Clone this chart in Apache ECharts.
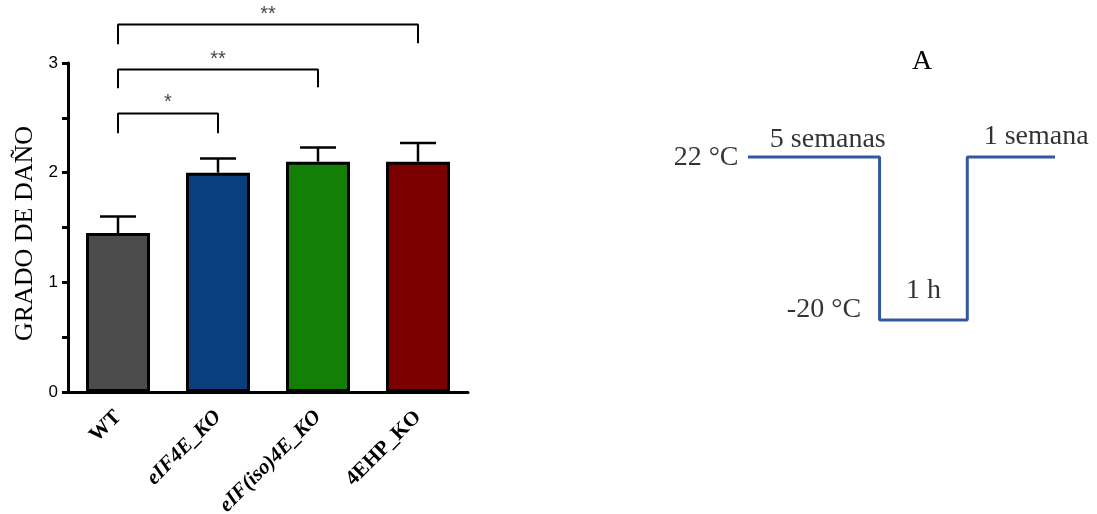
<!DOCTYPE html>
<html>
<head>
<meta charset="utf-8">
<script src="https://cdn.jsdelivr.net/npm/echarts@6/dist/echarts.min.js"></script>
<style>
html,body{margin:0;padding:0;background:#fff;}
#chart{width:1097px;height:514px;}
</style>
</head>
<body>
<div id="chart"></div>
<script>
// ---- Bar chart data ----
var categories = ['WT', 'eIF4E_KO', 'eIF(iso)4E_KO', '4EHP_KO'];
var means = [1.45, 2.0, 2.1, 2.1];
var errors = [0.15, 0.13, 0.13, 0.17];
var barColors = ['#4c4c4c', '#0a3f7e', '#138005', '#7d0000'];
var yTicks = [0, 1, 2, 3];

// significance brackets: [from index, to index], heights, star text
var bracketPairs = [[0, 1], [0, 2], [0, 3]];
var bracketTop = [2.54, 2.94, 3.35];
var bracketFoot = [[2.36, 2.36], [2.77, 2.78], [3.17, 3.18]];
var bracketStars = ['*', '**', '**'];

// ---- Temperature schedule diagram (schematic) ----
var stepX = [0, 3, 3, 5, 5, 7];
var stepY = [22, 22, -20, -20, 22, 22];
var tempHigh = '22 °C';
var tempLow = '-20 °C';
var durations = ['5 semanas', '1 h', '1 semana'];
var panelLetter = 'A';

var chart = echarts.init(document.getElementById('chart'), null, {renderer: 'canvas'});

var serif = 'Liberation Serif';
var sans = 'Liberation Sans';

var series = [];

series.push({
  type: 'bar',
  xAxisIndex: 0, yAxisIndex: 0,
  barWidth: 64,
  data: means.map(function (v, i) {
    return {value: v, itemStyle: {color: barColors[i]}};
  }),
  itemStyle: {borderColor: '#000', borderWidth: 3},
  z: 2
});

series.push({
  type: 'custom',
  xAxisIndex: 0, yAxisIndex: 0,
  data: means.map(function (v, i) { return [i, v, errors[i]]; }),
  renderItem: function (params, api) {
    var x = api.value(0), v = api.value(1), e = api.value(2);
    var b = api.coord([x, v]);
    var t = api.coord([x, v + e]);
    var hw = 18;
    return {
      type: 'group',
      children: [
        {type: 'line', shape: {x1: b[0], y1: b[1], x2: t[0], y2: t[1]}, style: {stroke: '#000', lineWidth: 2.5}},
        {type: 'line', shape: {x1: t[0] - hw, y1: t[1], x2: t[0] + hw, y2: t[1]}, style: {stroke: '#000', lineWidth: 2.5}}
      ]
    };
  },
  z: 3
});

bracketPairs.forEach(function (p, k) {
  series.push({
    type: 'line',
    xAxisIndex: 1, yAxisIndex: 0,
    clip: false,
    symbol: 'none',
    lineStyle: {color: '#000', width: 2},
    data: [[p[0], bracketFoot[k][0]], [p[0], bracketTop[k]], [p[1], bracketTop[k]], [p[1], bracketFoot[k][1]]],
    z: 4
  });
});

series.push({
  type: 'scatter',
  xAxisIndex: 1, yAxisIndex: 0,
  clip: false,
  symbolSize: 1,
  itemStyle: {color: 'rgba(0,0,0,0)'},
  data: bracketPairs.map(function (p, k) { return [(p[0] + p[1]) / 2, bracketTop[k]]; }),
  label: {
    show: true,
    position: 'top',
    distance: 0,
    formatter: function (pr) { return bracketStars[pr.dataIndex]; },
    fontFamily: sans, fontSize: 20, color: '#111'
  },
  z: 4
});

// temperature schedule
series.push({
  type: 'line',
  xAxisIndex: 2, yAxisIndex: 1,
  symbol: 'none',
  clip: false,
  lineStyle: {color: '#3458a0', width: 3},
  data: stepX.map(function (x, i) { return [x, stepY[i]]; })
});

var annFont = {fontFamily: serif, fontSize: 28, color: '#000'};
series.push({
  type: 'scatter',
  xAxisIndex: 2, yAxisIndex: 1,
  clip: false,
  symbolSize: 1,
  itemStyle: {color: 'rgba(0,0,0,0)'},
  data: [
    {value: [stepX[0], stepY[0]], label: Object.assign({show: true, formatter: tempHigh, position: 'left', distance: 9, offset: [0, 1]}, annFont)},
    {value: [stepX[2], stepY[2]], label: Object.assign({show: true, formatter: tempLow, position: 'left', distance: 18, offset: [0, -10]}, annFont)},
    {value: [(stepX[0] + stepX[1]) / 2, stepY[0]], label: Object.assign({show: true, formatter: durations[0], position: 'top', distance: 3, offset: [14, 0]}, annFont)},
    {value: [(stepX[2] + stepX[3]) / 2, stepY[2]], label: Object.assign({show: true, formatter: durations[1], position: 'top', distance: 15}, annFont)},
    {value: [(stepX[4] + stepX[5]) / 2, stepY[4]], label: Object.assign({show: true, formatter: durations[2], position: 'top', distance: 6, offset: [25, 0]}, annFont)}
  ]
});

var option = {
  animation: false,
  backgroundColor: '#fff',
  title: {
    text: panelLetter,
    left: 907, top: 43,
    textStyle: {fontFamily: serif, fontSize: 28, fontWeight: 'normal', color: '#000'}
  },
  grid: [
    {left: 68, top: 63, width: 400, height: 329, containLabel: false, outerBoundsMode: 'none'},
    {left: 748, top: 157, width: 307, height: 163, containLabel: false, outerBoundsMode: 'none'}
  ],
  xAxis: [
    {
      type: 'category', gridIndex: 0, data: categories,
      axisLine: {onZero: false, lineStyle: {color: '#000', width: 3}},
      axisTick: {alignWithLabel: true, length: 6, lineStyle: {color: '#000', width: 3}},
      axisLabel: {
        rotate: 45, margin: 22, interval: 0,
        formatter: function (v) { return v.indexOf('eIF') === 0 ? '{i|' + v + '}' : '{b|' + v + '}'; },
        rich: {
          i: {fontFamily: serif, fontSize: 21, fontWeight: 'bold', fontStyle: 'italic', color: '#000'},
          b: {fontFamily: serif, fontSize: 21, fontWeight: 'bold', color: '#000'}
        }
      }
    },
    {type: 'value', gridIndex: 0, min: -0.5, max: 3.5, show: false},
    {type: 'value', gridIndex: 1, min: 0, max: 7, show: false}
  ],
  yAxis: [
    {
      type: 'value', gridIndex: 0, min: yTicks[0], max: yTicks[yTicks.length - 1], interval: 1,
      splitLine: {show: false},
      axisLine: {show: true, onZero: false, lineStyle: {color: '#000', width: 3}},
      axisTick: {show: true, length: 6, lineStyle: {color: '#000', width: 3}},
      minorTick: {show: true, splitNumber: 2, length: 6, lineStyle: {color: '#000', width: 3}},
      axisLabel: {fontFamily: sans, fontSize: 17, color: '#000', margin: 10},
      name: 'GRADO DE DAÑO',
      nameLocation: 'middle',
      nameRotate: 90,
      nameGap: 30,
      nameTextStyle: {fontFamily: serif, fontSize: 26, color: '#000', padding: [0, 12, 0, 0]}
    },
    {type: 'value', gridIndex: 1, min: -20, max: 22, show: false}
  ],
  series: series
};
chart.setOption(option);
</script>
</body>
</html>
